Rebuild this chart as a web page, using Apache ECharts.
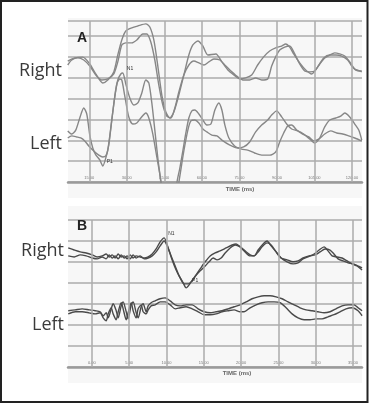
<!DOCTYPE html>
<html><head><meta charset="utf-8">
<script src="https://cdn.jsdelivr.net/npm/echarts@6/dist/echarts.min.js"></script>
<style>html,body{margin:0;padding:0;background:#fff}#c{width:369px;height:403px}</style>
</head><body><div id="c"></div>
<script>
// ---------- data ----------
const ticksA = [15, 30, 45, 60, 75, 90, 105, 120];
const ticksB = [0, 5, 10, 15, 20, 25, 30, 35];
const rowLabels = ['Right', 'Left'];
const panelLetters = ['A', 'B'];
const axisTitle = 'TIME (ms)';

// Panel A (time ms, amplitude in grid units)
const aRight1 = [[6.4,5.80],[9.2,5.95],[12.4,5.99],[15.2,5.66],[17.6,5.18],[20.4,4.75],[22.4,4.89],[24.8,5.28],[26.4,6.09],[28.0,6.81],[29.6,7.24],[32.0,7.39],[34.4,7.48],[37.6,7.58],[39.2,7.43],[40.8,6.81],[42.4,5.56],[44.0,4.17],[45.6,3.36],[47.2,3.07],[48.8,3.36],[50.8,4.17],[52.8,5.13],[54.8,6.09],[56.4,6.57],[58.4,6.76],[60.4,6.52],[62.4,6.09],[65.6,6.14],[68.0,5.76],[70.4,5.37],[72.8,5.13],[75.1,4.94],[77.5,4.99],[79.9,5.13],[82.3,5.61],[84.7,6.00],[87.1,6.28],[89.5,6.43],[91.9,6.52],[93.5,6.62],[95.1,6.47],[96.7,6.14],[99.1,5.71],[101.5,5.37],[103.9,5.18],[106.3,5.52],[108.7,5.95],[111.1,6.09],[113.5,6.09],[115.9,6.04],[118.3,5.85],[119.9,5.56],[121.5,5.37],[123.9,5.32]];
const aRight2 = [[6.4,5.61],[8.0,5.85],[10.4,5.95],[12.8,5.85],[15.2,5.56],[17.6,5.13],[20.0,4.89],[22.4,4.94],[24.8,5.18],[26.4,5.76],[28.0,6.57],[29.6,6.67],[32.0,6.67],[34.0,6.81],[36.4,7.10],[38.0,7.10],[39.6,6.71],[41.2,5.85],[42.8,4.65],[44.4,3.69],[46.0,3.16],[47.6,3.07],[49.2,3.55],[50.8,4.32],[52.8,5.13],[54.8,5.61],[56.8,5.80],[58.8,5.71],[60.8,5.61],[62.8,5.76],[64.8,5.90],[67.2,5.85],[69.6,5.56],[72.0,5.28],[74.3,5.04],[76.7,4.89],[79.1,4.89],[81.5,4.99],[83.9,4.89],[86.3,4.94],[87.9,5.56],[89.5,6.00],[91.1,6.33],[93.1,6.47],[95.1,6.52],[97.1,6.14],[99.1,5.66],[101.1,5.32],[103.1,5.28],[105.1,5.32],[107.1,5.66],[109.1,5.95],[111.1,6.09],[113.1,6.19],[115.1,6.14],[117.1,6.04],[119.1,5.76],[121.1,5.42],[123.1,5.32],[123.9,5.28]];
const aLeft1 = [[6.4,2.45],[8.0,2.30],[9.6,2.49],[11.2,3.07],[12.8,3.55],[14.0,3.26],[15.2,2.25],[16.4,1.63],[17.6,1.30],[19.2,1.06],[20.4,0.77],[21.6,1.15],[22.8,1.78],[24.0,2.97],[25.2,4.08],[26.4,4.89],[27.6,5.18],[28.4,5.23],[29.6,4.70],[31.2,4.03],[32.8,3.69],[34.4,3.79],[36.0,4.27],[37.6,4.89],[38.8,4.75],[40.0,3.79],[41.2,2.49],[42.4,1.15],[43.6,0.00],[44.4,-0.86],[47.2,-4.0],[50.0,-0.05],[51.2,0.67],[52.4,1.49],[53.6,2.35],[54.8,3.07],[56.0,3.41],[57.2,3.45],[58.8,3.26],[60.4,2.97],[62.0,2.73],[63.6,2.78],[65.2,3.45],[66.8,3.79],[68.0,3.45],[69.2,2.73],[70.8,2.11],[73.1,1.73],[75.9,1.58],[78.3,1.53],[81.1,1.39],[83.9,1.29],[87.1,1.29],[89.5,1.44],[91.1,1.92],[92.7,2.35],[94.3,2.69],[95.9,2.73],[97.9,2.49],[100.3,2.30],[102.7,2.16],[104.7,1.97],[106.7,2.06],[109.1,2.30],[111.5,2.45],[113.9,2.35],[116.3,2.30],[118.7,2.21],[121.1,2.11],[123.9,1.97]];
const aLeft2 = [[6.4,2.11],[8.0,2.21],[10.0,2.16],[11.6,2.11],[13.2,1.97],[14.8,1.73],[16.8,1.49],[18.8,1.29],[20.4,1.20],[21.6,1.25],[22.4,1.53],[23.6,2.59],[24.8,3.74],[26.0,4.70],[27.2,4.94],[28.0,4.89],[29.2,4.12],[30.8,3.12],[32.4,2.78],[34.0,2.83],[35.6,3.07],[37.6,3.31],[38.8,3.07],[40.4,2.30],[42.0,1.20],[43.2,0.38],[44.4,-0.62],[47.4,-4.0],[50.4,-0.38],[51.6,0.58],[52.8,1.49],[54.4,2.49],[55.6,2.93],[57.2,2.97],[58.8,2.83],[60.4,2.54],[62.0,2.40],[64.0,2.25],[66.0,2.21],[68.0,2.01],[71.2,1.77],[74.3,1.63],[76.7,1.68],[79.1,1.92],[81.5,2.40],[83.9,2.73],[86.3,2.97],[87.9,3.21],[89.9,3.41],[91.9,3.12],[93.9,2.78],[95.9,2.54],[98.3,2.45],[100.7,2.30],[103.1,2.06],[105.1,1.87],[107.1,2.11],[109.1,2.64],[111.1,2.97],[113.5,3.07],[115.5,3.16],[117.1,3.31],[119.1,3.12],[121.1,2.78],[122.7,2.49],[123.9,2.01]];

// Panel B
const bRight1 = [[-3.17,5.67],[-2.37,5.57],[-1.56,5.48],[-0.76,5.43],[0.04,5.34],[0.71,5.24],[1.38,5.29],[1.92,5.38],[2.32,5.24],[2.72,5.34],[3.12,5.19],[3.53,5.38],[3.93,5.24],[4.33,5.29],[4.73,5.15],[5.13,5.34],[5.53,5.19],[5.94,5.29],[6.47,5.24],[7.01,5.19],[7.54,5.24],[8.08,5.38],[8.61,5.62],[9.15,5.96],[9.69,6.15],[10.22,5.67],[10.76,5.10],[11.29,4.62],[11.83,4.24],[12.36,3.96],[12.90,3.96],[13.44,4.10],[13.97,4.39],[14.51,4.67],[15.18,5.01],[15.85,5.29],[16.52,5.43],[17.19,5.53],[17.99,5.67],[18.79,5.81],[19.33,5.86],[19.87,5.72],[20.53,5.48],[21.21,5.29],[21.74,5.29],[22.28,5.57],[22.95,5.86],[23.48,6.00],[24.02,5.77],[24.69,5.48],[25.36,5.19],[26.16,5.10],[26.96,5.01],[27.63,5.05],[28.30,5.19],[29.11,5.29],[29.91,5.34],[30.58,5.48],[31.25,5.62],[31.92,5.57],[32.45,5.38],[32.99,5.15],[33.66,5.05],[34.33,4.96],[35.00,4.91],[35.67,4.81],[36.21,4.72]];
const bRight2 = [[-3.17,5.29],[-2.37,5.24],[-1.56,5.34],[-0.76,5.29],[0.04,5.19],[0.71,5.15],[1.38,5.24],[1.92,5.15],[2.32,5.34],[2.72,5.19],[3.12,5.29],[3.53,5.15],[3.93,5.34],[4.33,5.19],[4.73,5.29],[5.13,5.15],[5.53,5.34],[5.94,5.19],[6.47,5.29],[7.01,5.15],[7.54,5.19],[8.08,5.29],[8.61,5.48],[9.15,5.77],[9.69,6.00],[10.09,5.77],[10.62,5.29],[11.16,4.81],[11.70,4.34],[12.23,4.01],[12.63,3.77],[13.03,3.91],[13.57,4.20],[14.11,4.43],[14.64,4.62],[15.18,4.81],[15.71,5.01],[16.25,5.19],[16.78,5.10],[17.32,5.19],[17.86,5.43],[18.53,5.67],[19.20,5.81],[19.87,5.72],[20.53,5.53],[21.21,5.34],[21.74,5.29],[22.28,5.48],[22.81,5.72],[23.48,5.91],[24.02,5.81],[24.69,5.48],[25.36,5.19],[26.16,5.01],[26.96,4.91],[27.63,4.96],[28.30,5.15],[28.97,5.24],[29.78,5.38],[30.45,5.57],[31.12,5.72],[31.65,5.53],[32.19,5.29],[32.86,5.24],[33.53,5.19],[34.20,5.05],[34.87,4.91],[35.54,4.81],[36.21,4.62]];
const bLeft1 = [[-3.17,2.68],[-2.23,2.72],[-1.30,2.77],[-0.36,2.72],[0.44,2.68],[1.11,2.63],[1.52,2.44],[1.92,2.58],[2.19,2.34],[2.59,2.77],[2.85,3.01],[3.26,2.68],[3.53,2.34],[3.93,2.91],[4.19,3.10],[4.60,2.63],[4.86,2.29],[5.27,2.96],[5.53,3.10],[5.94,2.58],[6.20,2.34],[6.61,2.87],[6.87,3.01],[7.28,2.63],[7.54,2.91],[7.94,3.06],[8.48,3.15],[9.15,3.25],[9.82,3.29],[10.49,3.15],[11.16,2.96],[11.83,2.91],[12.63,2.96],[13.44,2.96],[14.24,2.77],[15.04,2.63],[15.85,2.58],[16.65,2.63],[17.45,2.68],[18.26,2.77],[19.06,2.87],[19.87,2.96],[20.67,3.10],[21.47,3.25],[22.28,3.34],[23.08,3.39],[23.88,3.39],[24.69,3.34],[25.49,3.25],[26.29,3.10],[27.10,2.96],[27.90,2.82],[28.71,2.72],[29.51,2.68],[30.31,2.63],[31.12,2.58],[31.92,2.63],[32.72,2.77],[33.53,2.91],[34.33,2.96],[35.13,2.96],[35.67,2.82],[36.21,2.68]];
const bLeft2 = [[-3.17,2.53],[-2.23,2.63],[-1.30,2.63],[-0.36,2.58],[0.44,2.53],[1.11,2.58],[1.52,2.34],[1.92,2.20],[2.19,2.53],[2.59,2.82],[2.85,2.53],[3.26,2.25],[3.53,2.63],[3.93,3.06],[4.19,2.77],[4.60,2.25],[4.86,2.58],[5.27,3.06],[5.53,2.68],[5.94,2.34],[6.20,2.77],[6.61,2.96],[6.87,2.63],[7.28,2.53],[7.54,2.72],[7.94,2.91],[8.48,2.96],[9.15,3.10],[9.82,3.10],[10.49,2.96],[11.16,2.77],[11.83,2.82],[12.63,2.87],[13.44,2.77],[14.24,2.63],[15.04,2.49],[15.85,2.49],[16.65,2.53],[17.45,2.63],[18.26,2.68],[19.06,2.72],[19.87,2.63],[20.40,2.63],[21.21,2.82],[22.01,2.96],[22.81,3.06],[23.62,3.10],[24.42,3.10],[25.22,3.06],[26.03,2.82],[26.83,2.53],[27.63,2.34],[28.44,2.25],[29.24,2.25],[30.04,2.29],[30.85,2.29],[31.65,2.39],[32.45,2.49],[33.26,2.63],[34.06,2.77],[34.87,2.82],[35.67,2.68],[36.21,2.44]];

// peak annotations: [series data, time of the peak, text]
const peakNotes = [
  { data: aLeft1, t: 28.4, text: 'N1' },
  { data: aLeft1, t: 20.4, text: 'P1' },
  { data: bRight1, t: 9.69, text: 'N1' },
  { data: bRight2, t: 12.63, text: 'P1' }
];

// ---------- chart ----------
const chart = echarts.init(document.getElementById('c'), null, { renderer: 'canvas' });
const FONT = '"Open Sans", "Noto Sans", sans-serif';
const gridColor = '#ababab';

function xAxisCfg(gi, min, max, ticks) {
  return {
    gridIndex: gi, type: 'value', min: min, max: max,
    splitLine: { show: false },
    axisTick: { show: false },
    axisLine: { show: true, onZero: false, lineStyle: { color: '#9a9a9a', width: 2.5 } },
    axisLabel: { show: true, inside: true, customValues: ticks, margin: 2,
      formatter: v => v.toFixed(2), fontSize: 4, color: '#777', fontFamily: 'Liberation Sans' }
  };
}
function yAxisCfg(gi, max) {
  return {
    gridIndex: gi, type: 'value', min: 0, max: max, interval: 1,
    axisLine: { show: false }, axisTick: { show: false }, axisLabel: { show: false },
    splitLine: { show: true, lineStyle: { color: gridColor, width: 1.5 } }
  };
}
function gridMarks(gi, ticks) {
  return {
    type: 'line', xAxisIndex: gi, yAxisIndex: gi, data: [], z: 1, silent: true,
    markLine: { silent: true, symbol: 'none', animation: false, label: { show: false },
      lineStyle: { color: gridColor, width: 1.5, type: 'solid' },
      data: ticks.map(v => ({ xAxis: v })) }
  };
}
function notesFor(data, off) {
  return peakNotes.filter(n => n.data === data).map(n => {
    const p = data.find(d => d[0] === n.t);
    return { coord: p, symbolSize: 0, label: { show: true, formatter: n.text, position: 'right',
      offset: off, fontSize: 5, color: '#333', fontFamily: 'Liberation Sans' } };
  });
}
function trace(gi, data, color, off) {
  const s = {
    type: 'line', xAxisIndex: gi, yAxisIndex: gi, data: data, showSymbol: false, symbol: 'none',
    smooth: 0.25, z: 3, silent: true,
    lineStyle: { color: color, width: 1.4 }, clip: true
  };
  const mp = notesFor(data, off || [-1, -4]);
  if (mp.length) s.markPoint = { silent: true, animation: false, symbol: 'circle', data: mp };
  return s;
}

const colA = '#878787', colB = '#4a4a4a';
const option = {
  animation: false,
  backgroundColor: '#fff',
  grid: [
    { left: 68, right: 7, top: 21, bottom: 403 - 182, containLabel: false },
    { left: 68, right: 7, top: 220, bottom: 403 - 367, containLabel: false }
  ],
  xAxis: [xAxisCfg(0, 6.5, 124, ticksA), xAxisCfg(1, -3.2, 36.2, ticksB)],
  yAxis: [yAxisCfg(0, 7.72), yAxisCfg(1, 7)],
  series: [
    gridMarks(0, ticksA), gridMarks(1, ticksB),
    trace(0, aRight1, colA), trace(0, aRight2, colA), trace(0, aLeft1, colA), trace(0, aLeft2, colA),
    trace(1, bRight1, colB), trace(1, bRight2, colB, [1, -7]), trace(1, bLeft1, colB), trace(1, bLeft2, colB)
  ],
  graphic: [
    { type: 'rect', z: -10, shape: { x: 68, y: 18, width: 294, height: 180 }, style: { fill: '#f7f7f7' } },
    { type: 'rect', z: -10, shape: { x: 68, y: 206, width: 294, height: 177 }, style: { fill: '#f7f7f7' } },
    { type: 'rect', z: 100, shape: { x: 1, y: 1, width: 366.5, height: 401 }, style: { fill: 'none', stroke: '#222', lineWidth: 2 } },
    { type: 'text', z: 50, style: { text: panelLetters[0], x: 77, y: 38, fill: '#222', font: 'bold 14px "Liberation Sans", sans-serif', verticalAlign: 'middle' } },
    { type: 'text', z: 50, style: { text: panelLetters[1], x: 77, y: 226, fill: '#222', font: 'bold 14px "Liberation Sans", sans-serif', verticalAlign: 'middle' } },
    { type: 'text', z: 50, style: { text: rowLabels[0], x: 62, y: 71, align: 'right', verticalAlign: 'middle', font: '18px ' + FONT, fill: '#3a3a3a' } },
    { type: 'text', z: 50, style: { text: rowLabels[1], x: 62, y: 144, align: 'right', verticalAlign: 'middle', font: '18px ' + FONT, fill: '#3a3a3a' } },
    { type: 'text', z: 50, style: { text: rowLabels[0], x: 64, y: 251, align: 'right', verticalAlign: 'middle', font: '18px ' + FONT, fill: '#3a3a3a' } },
    { type: 'text', z: 50, style: { text: rowLabels[1], x: 64, y: 325, align: 'right', verticalAlign: 'middle', font: '18px ' + FONT, fill: '#3a3a3a' } },
    { type: 'text', z: 50, style: { text: axisTitle, x: 240, y: 189, align: 'center', verticalAlign: 'middle', font: 'bold 6px "Liberation Sans", sans-serif', fill: '#666' } },
    { type: 'text', z: 50, style: { text: axisTitle, x: 237, y: 373, align: 'center', verticalAlign: 'middle', font: 'bold 6px "Liberation Sans", sans-serif', fill: '#666' } }
  ]
};
chart.setOption(option);
</script>
</body></html>
